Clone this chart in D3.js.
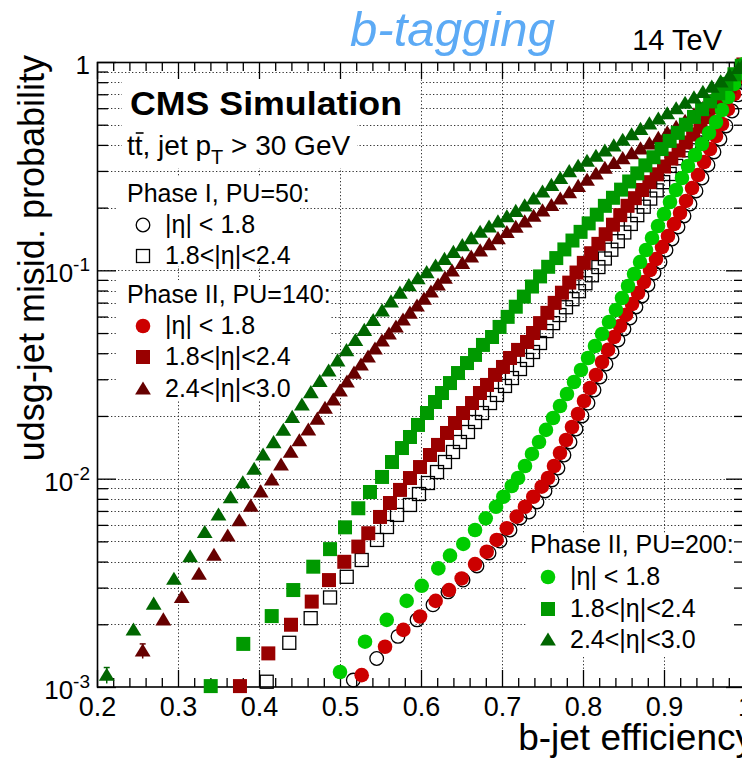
<!DOCTYPE html>
<html>
<head>
<meta charset="utf-8">
<script src="https://cdn.jsdelivr.net/npm/d3@7"></script>
<style>
body { margin: 0; background: #fff; }
svg text { font-family: "Liberation Sans", Arial, Helvetica, sans-serif; fill: #000; }
</style>
</head>
<body>
<svg id="chart" width="742" height="758"></svg>
<script>
// ---- data: [b-jet efficiency, udsg misid probability] ----

// Phase I, PU=50 (open markers)
var phase1Eta18 = [[0.5164,0.00108],[0.5453,0.00137],[0.5716,0.00175],[0.5951,0.00210],[0.6148,0.00248],[0.6333,0.00286],[0.6519,0.00326],[0.6691,0.00381],[0.6840,0.00440],[0.6975,0.00502],[0.7099,0.00567],[0.7222,0.00648],[0.7333,0.00692],[0.7432,0.00773],[0.7531,0.00873],[0.7617,0.00986],[0.7691,0.01125],[0.7765,0.01299],[0.7840,0.0150],[0.7914,0.01731],[0.7988,0.0200],[0.8062,0.02307],[0.8136,0.02665],[0.8210,0.03076],[0.8284,0.03551],[0.8358,0.04055],[0.8432,0.0463],[0.8506,0.05229],[0.8580,0.05906],[0.8654,0.0667],[0.8728,0.07534],[0.8802,0.08508],[0.8877,0.0971],[0.8951,0.1096],[0.9025,0.1252],[0.9099,0.1414],[0.9173,0.1615],[0.9247,0.1824],[0.9321,0.2082],[0.9395,0.2404],[0.9469,0.2775],[0.9543,0.3205],[0.9617,0.370],[0.9691,0.427],[0.9765,0.4932],[0.9840,0.5819],[0.9914,0.695],[0.9975,0.8375]];
var phase1Eta24 = [[0.4095,0.00106],[0.4374,0.00163],[0.4638,0.00214],[0.4877,0.00269],[0.5083,0.00338],[0.5268,0.00407],[0.5457,0.00508],[0.5580,0.00586],[0.5704,0.0067],[0.5864,0.00748],[0.5975,0.00844],[0.6086,0.00953],[0.6198,0.01076],[0.6296,0.01202],[0.6395,0.01343],[0.6481,0.0150],[0.6580,0.01675],[0.6667,0.01871],[0.6753,0.02066],[0.6852,0.02307],[0.6938,0.02523],[0.7037,0.02786],[0.7123,0.03041],[0.7222,0.0336],[0.7309,0.03715],[0.7383,0.04055],[0.7469,0.0448],[0.755,0.0511],[0.763,0.0558],[0.771,0.061],[0.779,0.0665],[0.787,0.0727],[0.795,0.0794],[0.803,0.0867],[0.811,0.0947],[0.819,0.1037],[0.827,0.114],[0.835,0.1256],[0.843,0.138],[0.851,0.152],[0.859,0.167],[0.867,0.184],[0.875,0.202],[0.883,0.221],[0.891,0.242],[0.899,0.265],[0.907,0.290],[0.915,0.317],[0.923,0.345],[0.931,0.377],[0.939,0.411],[0.947,0.449],[0.955,0.489],[0.963,0.548],[0.971,0.619],[0.979,0.700],[0.987,0.801],[0.995,0.918]];

// Phase II, PU=140
var pu140Eta18 = [[0.5268,0.00114],[0.5556,0.00156],[0.5782,0.00188],[0.5988,0.00218],[0.6181,0.00259],[0.6346,0.00292],[0.6502,0.00332],[0.6667,0.00389],[0.6811,0.00446],[0.6934,0.00508],[0.7058,0.00578],[0.7181,0.00657],[0.7284,0.00733],[0.7386,0.00819],[0.7490,0.00915],[0.7568,0.01007],[0.7642,0.0115],[0.7716,0.01328],[0.7790,0.01533],[0.7864,0.0177],[0.7938,0.02043],[0.8012,0.0236],[0.8086,0.02723],[0.8160,0.03145],[0.8235,0.03631],[0.8309,0.0415],[0.8383,0.04786],[0.8457,0.05405],[0.8531,0.06109],[0.8605,0.0689],[0.8679,0.07784],[0.8753,0.0879],[0.8827,0.1004],[0.8901,0.1133],[0.8975,0.1294],[0.9049,0.1462],[0.9123,0.1669],[0.9198,0.1884],[0.9272,0.2153],[0.9346,0.2484],[0.9420,0.2868],[0.9494,0.3311],[0.9568,0.3822],[0.9642,0.4412],[0.9716,0.5038],[0.9790,0.5943],[0.9864,0.7021],[0.9938,0.8473]];
var pu140Eta24 = [[0.3765,0.00101],[0.4115,0.00145],[0.4395,0.00199],[0.4651,0.00257],[0.4864,0.00326],[0.5053,0.00399],[0.5226,0.00472],[0.5349,0.00547],[0.5494,0.00655],[0.5617,0.00764],[0.5741,0.00883],[0.5864,0.01007],[0.5988,0.01137],[0.6111,0.01299],[0.6210,0.01452],[0.6321,0.01657],[0.6420,0.0185],[0.6519,0.02066],[0.6630,0.02307],[0.6728,0.02577],[0.6815,0.02818],[0.6914,0.03148],[0.7012,0.03437],[0.7099,0.03796],[0.7198,0.0415],[0.7309,0.0453],[0.7383,0.05003],[0.747,0.0558],[0.756,0.0625],[0.765,0.0698],[0.774,0.0781],[0.783,0.0873],[0.792,0.0976],[0.801,0.1086],[0.810,0.1208],[0.819,0.134],[0.828,0.149],[0.837,0.1656],[0.846,0.184],[0.855,0.204],[0.864,0.222],[0.873,0.243],[0.882,0.265],[0.891,0.289],[0.900,0.315],[0.909,0.344],[0.918,0.376],[0.927,0.411],[0.936,0.449],[0.945,0.490],[0.954,0.544],[0.963,0.605],[0.972,0.674],[0.981,0.762],[0.990,0.867],[0.998,0.973]];
var pu140Eta30 = [[0.2564,0.00149],[0.2819,0.0021],[0.3046,0.00269],[0.3259,0.00348],[0.3444,0.00429],[0.3614,0.00531],[0.3757,0.00628],[0.3898,0.00739],[0.4021,0.00865],[0.4157,0.00986],[0.4272,0.01163],[0.4391,0.01339],[0.4498,0.01521],[0.4609,0.01714],[0.4720,0.01932],[0.4815,0.02178],[0.4917,0.02387],[0.5,0.02636],[0.5086,0.02911],[0.5173,0.03214],[0.5259,0.03513],[0.5346,0.03838],[0.5432,0.04192],[0.5519,0.04581],[0.5605,0.04948],[0.5691,0.05346],[0.5778,0.05781],[0.5864,0.06237],[0.5951,0.06745],[0.6037,0.07278],[0.6123,0.0787],[0.6210,0.08511],[0.6296,0.09184],[0.6383,0.09931],[0.651,0.108],[0.662,0.116],[0.673,0.124],[0.684,0.133],[0.695,0.142],[0.706,0.152],[0.717,0.161],[0.728,0.171],[0.739,0.182],[0.750,0.193],[0.761,0.205],[0.772,0.220],[0.783,0.236],[0.794,0.253],[0.805,0.271],[0.816,0.290],[0.827,0.309],[0.838,0.326],[0.849,0.344],[0.860,0.363],[0.871,0.383],[0.882,0.405],[0.893,0.430],[0.904,0.457],[0.915,0.486],[0.926,0.520],[0.937,0.558],[0.948,0.600],[0.959,0.650],[0.970,0.706],[0.981,0.783],[0.992,0.889],[1.0,1.0]];

// Phase II, PU=200
var pu200Eta18 = [[0.5,0.00118],[0.5309,0.00165],[0.5577,0.0021],[0.5823,0.00259],[0.6009,0.00306],[0.6214,0.00371],[0.6358,0.00427],[0.6522,0.00486],[0.6667,0.00567],[0.6799,0.00645],[0.6926,0.00733],[0.7016,0.00819],[0.7120,0.00922],[0.7198,0.01007],[0.7284,0.0115],[0.7370,0.01314],[0.7457,0.0150],[0.7543,0.01714],[0.7630,0.01955],[0.7716,0.02233],[0.7802,0.02549],[0.7889,0.02911],[0.7975,0.03324],[0.8062,0.03796],[0.8148,0.04333],[0.8235,0.04948],[0.8321,0.05649],[0.8407,0.0645],[0.8481,0.07366],[0.8556,0.08411],[0.8630,0.096],[0.8704,0.1096],[0.8778,0.1252],[0.8852,0.1429],[0.8926,0.1632],[0.9000,0.1864],[0.9074,0.2128],[0.9148,0.243],[0.9222,0.2774],[0.9296,0.3168],[0.9383,0.3578],[0.9469,0.404],[0.9556,0.4562],[0.9642,0.5152],[0.9716,0.5884],[0.9790,0.6792],[0.9864,0.7843],[0.9926,0.8856],[0.9988,0.978]];
var pu200Eta24 = [[0.3404,0.00101],[0.3806,0.00161],[0.4157,0.00219],[0.4423,0.00292],[0.4670,0.00378],[0.4877,0.00459],[0.5062,0.00584],[0.5226,0.00721],[0.5370,0.00863],[0.5519,0.01019],[0.5642,0.01202],[0.5765,0.01403],[0.5864,0.01585],[0.5963,0.01811],[0.6074,0.02066],[0.6173,0.02333],[0.6259,0.02577],[0.6358,0.02877],[0.6457,0.03214],[0.6568,0.03589],[0.6667,0.03926],[0.6765,0.04385],[0.6877,0.04786],[0.697,0.0535],[0.707,0.0598],[0.717,0.0669],[0.727,0.0748],[0.737,0.0836],[0.747,0.0935],[0.757,0.104],[0.767,0.1145],[0.777,0.126],[0.787,0.139],[0.797,0.153],[0.807,0.168],[0.817,0.185],[0.827,0.204],[0.837,0.223],[0.847,0.244],[0.857,0.267],[0.867,0.292],[0.877,0.319],[0.887,0.349],[0.897,0.382],[0.907,0.418],[0.917,0.457],[0.927,0.500],[0.937,0.545],[0.947,0.594],[0.957,0.647],[0.967,0.707],[0.977,0.785],[0.987,0.873],[0.996,0.959]];
var pu200Eta30 = [[0.212,0.00114],[0.245,0.00188],[0.270,0.0025],[0.295,0.00329],[0.315,0.00422],[0.333,0.00552],[0.350,0.0067],[0.365,0.0081],[0.380,0.00957],[0.394,0.0111],[0.405,0.0130],[0.418,0.0149],[0.430,0.0171],[0.441,0.0197],[0.453,0.0226],[0.464,0.0259],[0.475,0.0293],[0.486,0.0329],[0.497,0.0368],[0.508,0.0412],[0.519,0.0461],[0.530,0.0515],[0.541,0.0575],[0.552,0.0639],[0.563,0.0706],[0.574,0.0778],[0.585,0.0845],[0.596,0.0911],[0.607,0.0975],[0.618,0.105],[0.629,0.113],[0.640,0.122],[0.651,0.1315],[0.662,0.142],[0.673,0.1524],[0.684,0.1614],[0.695,0.171],[0.706,0.181],[0.717,0.192],[0.728,0.204],[0.739,0.220],[0.750,0.238],[0.761,0.256],[0.772,0.276],[0.783,0.298],[0.794,0.316],[0.805,0.334],[0.816,0.353],[0.827,0.374],[0.838,0.396],[0.849,0.421],[0.860,0.448],[0.871,0.475],[0.882,0.505],[0.893,0.533],[0.904,0.565],[0.915,0.597],[0.926,0.634],[0.937,0.673],[0.948,0.715],[0.959,0.758],[0.970,0.803],[0.981,0.861],[0.992,0.931],[1.0,1.0]];

// error bars on the lowest triangle points: [eff, low, high]
var pu140Eta30Err = [[0.2564,0.00137,0.00161]];
var pu200Eta30Err = [[0.212,0.00104,0.00124]];

// axis ticks
var xMajor = [0.2,0.3,0.4,0.5,0.6,0.7,0.8,0.9,1.0];
var xLabels = ["0.2","0.3","0.4","0.5","0.6","0.7","0.8","0.9","1"];
var yMajor = [0.001,0.01,0.1,1];
var yLabels = [["10","-3"],["10","-2"],["10","-1"],["1",""]];

// ---- drawing ----
var svg = d3.select("#chart");
var x = d3.scaleLinear().domain([0.2, 1.0]).range([97, 745]);
var y = d3.scaleLog().domain([0.001, 1]).range([687, 62]);

var red1 = "#cc0000", red2 = "#990000", red3 = "#660000";
var grn1 = "#00cc00", grn2 = "#009900", grn3 = "#006600";

// dotted grid
var grid = svg.append("g")
    .attr("stroke", "#333")
    .attr("stroke-width", 1)
    .attr("stroke-dasharray", "1.3,2.2");
grid.selectAll("line.gx")
    .data(xMajor.slice(1, -1))
    .enter().append("line")
    .attr("x1", d => Math.round(x(d)) + 0.5).attr("x2", d => Math.round(x(d)) + 0.5)
    .attr("y1", 62).attr("y2", 687);
var yAll = y.ticks();
var yDec = yAll.filter(d => Math.abs(Math.log10(d) - Math.round(Math.log10(d))) < 1e-9);
var yMin = yAll.filter(d => yDec.indexOf(d) < 0);
grid.selectAll("line.gy")
    .data(yAll.filter(d => d > 0.0011 && d < 0.99))
    .enter().append("line")
    .attr("x1", 97).attr("x2", 745)
    .attr("y1", d => Math.round(y(d)) + 0.5).attr("y2", d => Math.round(y(d)) + 0.5);

// white boxes behind the texts and legends
var boxes = [[122,75,420,118],[122,118,357,168],[117,177,300,266],[117,280,330,400],[527,533,745,657]];
svg.selectAll("rect.box")
    .data(boxes)
    .enter().append("rect")
    .attr("x", d => d[0]).attr("y", d => d[1])
    .attr("width", d => d[2] - d[0]).attr("height", d => d[3] - d[1])
    .attr("fill", "#fff");

// frame + ticks
svg.append("rect")
    .attr("x", 97.5).attr("y", 62.5).attr("width", 647).attr("height", 624.5)
    .attr("fill", "none").attr("stroke", "#000").attr("stroke-width", 1.6);

var xMin = x.ticks(40).filter(d => Math.abs(d * 10 - Math.round(d * 10)) > 1e-6);

function styleAxis(g) {
    g.select(".domain").remove();
    g.attr("color", "#000");
    g.selectAll(".tick line").attr("stroke-width", 1.3);
}

var xAxisG = svg.append("g").attr("transform", "translate(0,687)")
    .call(d3.axisBottom(x).tickValues(xMajor).tickSize(-17).tickPadding(10)
        .tickFormat((d, i) => xLabels[i]))
    .call(styleAxis);
xAxisG.selectAll("text")
    .attr("font-size", 27)
    .attr("font-family", "Liberation Sans, Arial, sans-serif");
svg.append("g").attr("transform", "translate(0,687)")
    .call(d3.axisBottom(x).tickValues(xMin).tickSize(-9).tickFormat(""))
    .call(styleAxis);
svg.append("g").attr("transform", "translate(0,62)")
    .call(d3.axisTop(x).tickValues(xMajor).tickSize(-17).tickFormat(""))
    .call(styleAxis);
svg.append("g").attr("transform", "translate(0,62)")
    .call(d3.axisTop(x).tickValues(xMin).tickSize(-9).tickFormat(""))
    .call(styleAxis);
svg.append("g").attr("transform", "translate(97,0)")
    .call(d3.axisLeft(y).tickValues(yDec).tickSize(-19).tickFormat(""))
    .call(styleAxis);
svg.append("g").attr("transform", "translate(97,0)")
    .call(d3.axisLeft(y).tickValues(yMin).tickSize(-11).tickFormat(""))
    .call(styleAxis);
svg.append("g").attr("transform", "translate(745,0)")
    .call(d3.axisRight(y).tickValues(yDec).tickSize(-19).tickFormat(""))
    .call(styleAxis);
svg.append("g").attr("transform", "translate(745,0)")
    .call(d3.axisRight(y).tickValues(yMin).tickSize(-11).tickFormat(""))
    .call(styleAxis);

// y tick labels with exponents
yMajor.forEach(function(v, i) {
    var t = svg.append("text")
        .attr("x", 90)
        .attr("y", y(v) + 12)
        .attr("text-anchor", "end");
    t.append("tspan").attr("font-size", 26).text(yLabels[i][0]);
    if (yLabels[i][1]) {
        t.append("tspan").attr("font-size", 19).attr("dy", -11).text(yLabels[i][1]);
    }
});

// markers
function addMarker(g, shape, cx, cy, color, open) {
    var m;
    if (shape === "circle") {
        m = g.append("circle").attr("cx", cx).attr("cy", cy).attr("r", open ? 6.8 : 7.3);
    } else if (shape === "square") {
        var s = open ? 13 : 14;
        m = g.append("rect").attr("x", cx - s / 2).attr("y", cy - s / 2).attr("width", s).attr("height", s);
    } else {
        m = g.append("path").attr("d", `M${cx},${cy - 7.5}L${cx + 7.9},${cy + 5.6}L${cx - 7.9},${cy + 5.6}Z`);
    }
    if (open) m.attr("fill", "none").attr("stroke", "#000").attr("stroke-width", 1.3);
    else m.attr("fill", color);
}

var seriesList = [
    {data: phase1Eta18, shape: "circle", color: "#000", open: true},
    {data: phase1Eta24, shape: "square", color: "#000", open: true},
    {data: pu140Eta18, shape: "circle", color: red1},
    {data: pu140Eta24, shape: "square", color: red2},
    {data: pu140Eta30, shape: "triangle", color: red3},
    {data: pu200Eta18, shape: "circle", color: grn1},
    {data: pu200Eta24, shape: "square", color: grn2},
    {data: pu200Eta30, shape: "triangle", color: grn3}
];

// error bars
[[pu140Eta30Err, red3], [pu200Eta30Err, grn3]].forEach(function(e) {
    e[0].forEach(function(d) {
        svg.append("line")
            .attr("x1", x(d[0])).attr("x2", x(d[0]))
            .attr("y1", y(d[1])).attr("y2", y(d[2]))
            .attr("stroke", e[1]).attr("stroke-width", 1.5);
        svg.append("line")
            .attr("x1", x(d[0]) - 3).attr("x2", x(d[0]) + 3)
            .attr("y1", y(d[2])).attr("y2", y(d[2]))
            .attr("stroke", e[1]).attr("stroke-width", 1.5);
    });
});

seriesList.forEach(function(s) {
    var g = svg.append("g");
    s.data.forEach(function(d) {
        addMarker(g, s.shape, x(d[0]), y(d[1]), s.color, s.open);
    });
});

// legends
var legends = [
    {title: "Phase I, PU=50:", tx: 127, ty: 202, entries: [
        ["circle", "#000", true, "|η| < 1.8", 143, 225],
        ["square", "#000", true, "1.8<|η|<2.4", 143, 256]]},
    {title: "Phase II, PU=140:", tx: 127, ty: 303, entries: [
        ["circle", red1, false, "|η| < 1.8", 143, 326],
        ["square", red2, false, "1.8<|η|<2.4", 143, 357],
        ["triangle", red3, false, "2.4<|η|<3.0", 143, 389]]},
    {title: "Phase II, PU=200:", tx: 530, ty: 553, entries: [
        ["circle", grn1, false, "|η| < 1.8", 548, 577],
        ["square", grn2, false, "1.8<|η|<2.4", 548, 609],
        ["triangle", grn3, false, "2.4<|η|<3.0", 548, 640]]}
];
legends.forEach(function(L) {
    svg.append("text").attr("x", L.tx).attr("y", L.ty).attr("font-size", 25).text(L.title);
    L.entries.forEach(function(e) {
        addMarker(svg, e[0], e[4], e[5], e[1], e[2]);
        svg.append("text").attr("x", e[4] + 22).attr("y", e[5] + 8).attr("font-size", 25).text(e[3]);
    });
});

// texts
svg.append("text")
    .attr("x", 130).attr("y", 115)
    .attr("font-size", 33).attr("font-weight", "bold")
    .attr("textLength", 272).attr("lengthAdjust", "spacingAndGlyphs")
    .text("CMS Simulation");

var tt = svg.append("text").attr("x", 127).attr("y", 155).attr("font-size", 28);
tt.append("tspan").text("tt, jet p");
tt.append("tspan").attr("font-size", 20).attr("dy", 9).text("T");
tt.append("tspan").attr("dy", -9).text(" > 30 GeV");
// bar over the second t
var tNode = tt.node();
var p0 = tNode.getStartPositionOfChar(1), p1 = tNode.getEndPositionOfChar(1);
svg.append("line")
    .attr("x1", p0.x + 1).attr("x2", p1.x + 1)
    .attr("y1", 133).attr("y2", 133)
    .attr("stroke", "#000").attr("stroke-width", 1.6);

svg.append("text")
    .attr("x", 350).attr("y", 46)
    .attr("font-family", "Open Sans, sans-serif")
    .attr("font-style", "italic")
    .attr("font-size", 49)
    .attr("textLength", 205).attr("lengthAdjust", "spacingAndGlyphs")
    .style("fill", "#5caaf5")
    .text("b-tagging");

svg.append("text")
    .attr("x", 722).attr("y", 50)
    .attr("text-anchor", "end")
    .attr("font-size", 29)
    .text("14 TeV");

svg.append("text")
    .attr("x", 754).attr("y", 750)
    .attr("text-anchor", "end")
    .attr("font-size", 37)
    .text("b-jet efficiency");

svg.append("text")
    .attr("transform", "translate(44,55) rotate(-90)")
    .attr("text-anchor", "end")
    .attr("font-size", 36)
    .text("udsg-jet misid. probability");
</script>
</body>
</html>
